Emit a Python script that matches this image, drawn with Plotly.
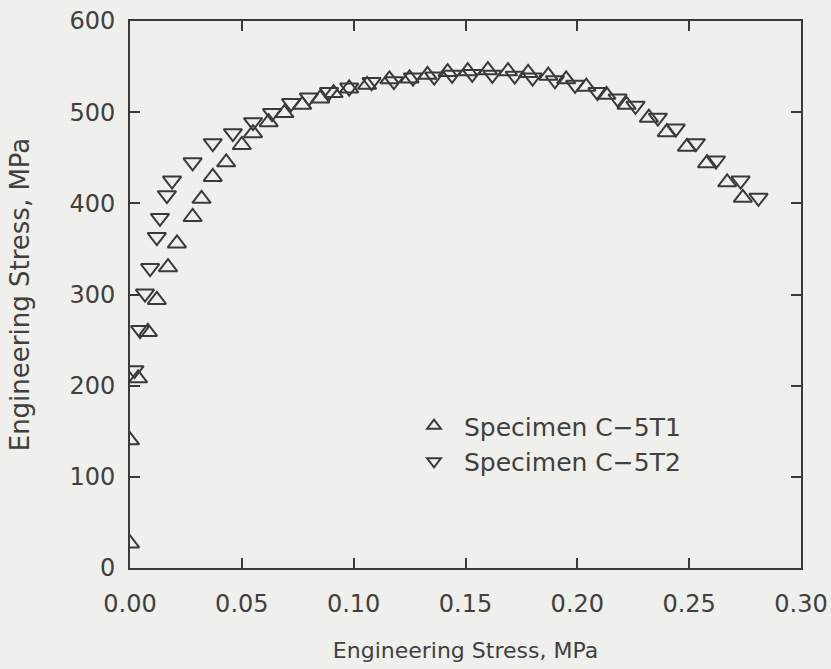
import plotly.graph_objects as go

# Specimen C-5T1 (upward triangles)
t1_strain = [0.000, 0.000, 0.0036, 0.008, 0.012, 0.017, 0.021, 0.028, 0.032, 0.037,
             0.043, 0.050, 0.055, 0.062, 0.069, 0.077, 0.085, 0.091, 0.098, 0.106,
             0.116, 0.125, 0.133, 0.142, 0.151, 0.160, 0.169, 0.178, 0.187, 0.195,
             0.204, 0.213, 0.222, 0.232, 0.240, 0.249, 0.258, 0.267, 0.274]
t1_stress = [27, 140, 208, 259, 294, 330, 356, 385, 405, 429,
             445, 464, 477, 489, 499, 508, 515, 521, 526, 530,
             536, 537, 541, 544, 545, 546, 545, 543, 540, 536,
             528, 519, 508, 494, 478, 462, 444, 423, 406]

# Specimen C-5T2 (downward triangles)
t2_strain = [0.002, 0.0045, 0.0067, 0.009, 0.012, 0.0134, 0.0165, 0.0188, 0.028, 0.037,
             0.046, 0.055, 0.0635, 0.072, 0.080, 0.089, 0.098, 0.108, 0.118, 0.1265,
             0.136, 0.144, 0.153, 0.162, 0.172, 0.180, 0.190, 0.199, 0.209, 0.218,
             0.226, 0.236, 0.244, 0.253, 0.262, 0.273, 0.281]
t2_stress = [217, 261, 301, 329, 363, 384, 409, 425, 445, 466,
             477, 489, 499, 510, 516, 522, 527, 533, 534, 538,
             539, 541, 542, 541, 540, 538, 535, 530, 522, 515,
             507, 494, 482, 466, 447, 425, 406]

x_ticks = [0.00, 0.05, 0.10, 0.15, 0.20, 0.25, 0.30]
y_ticks = [0, 100, 200, 300, 400, 500, 600]

INK = "#3a3a3a"
TEXT = "#404040"
BG = "#efefec"
FONT = "DejaVu Sans"

fig = go.Figure()
fig.add_trace(go.Scatter(
    x=t1_strain, y=t1_stress, mode="markers", name="Specimen C\u22125T1",
    marker=dict(symbol="triangle-up-open", size=16, color=INK, line=dict(width=2, color=INK)),
))
fig.add_trace(go.Scatter(
    x=t2_strain, y=t2_stress, mode="markers", name="Specimen C\u22125T2",
    marker=dict(symbol="triangle-down-open", size=16, color=INK, line=dict(width=2, color=INK)),
))

axis_common = dict(
    showline=True, linewidth=2, linecolor=INK, mirror="ticks",
    ticks="inside", ticklen=10, tickwidth=2, tickcolor=INK,
    showgrid=False, zeroline=False,
    tickfont=dict(family=FONT, size=24, color=TEXT),
)

fig.update_xaxes(
    range=[0, 0.30], tickvals=x_ticks, ticktext=[f"{v:.2f}" for v in x_ticks],
    title=dict(text="Engineering Stress, MPa", font=dict(family=FONT, size=22, color=TEXT), standoff=26),
    ticklabelstandoff=13,
    **axis_common,
)
fig.update_yaxes(
    range=[0, 600], tickvals=y_ticks,
    title=dict(text="Engineering Stress, MPa", font=dict(family=FONT, size=26, color=TEXT), standoff=32),
    ticklabelstandoff=8,
    **axis_common,
)

fig.update_layout(
    width=831, height=669,
    margin=dict(l=130, r=30, t=21, b=101, autoexpand=False),
    paper_bgcolor=BG, plot_bgcolor=BG,
    showlegend=True,
    legend=dict(
        x=(404 - 130) / 671, y=(568 - 403) / 547, xanchor="left", yanchor="top",
        bgcolor="rgba(0,0,0,0)", borderwidth=0, itemwidth=50, itemsizing="constant",
        font=dict(family=FONT, size=25, color=TEXT),
    ),
)

fig.write_html("out.html")
